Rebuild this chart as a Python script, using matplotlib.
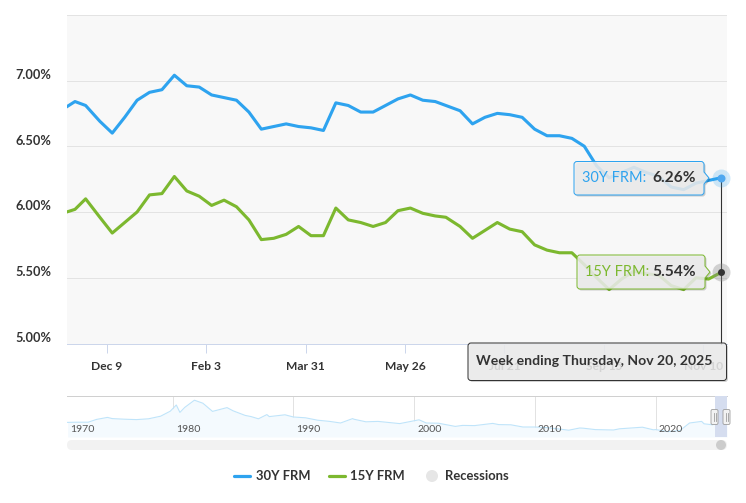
import matplotlib
matplotlib.use('Agg')
import matplotlib.pyplot as plt
from matplotlib.path import Path
from matplotlib.patches import PathPatch, FancyBboxPatch, Circle
from matplotlib.transforms import ScaledTranslation
import pandas as pd

plt.rcParams['font.family'] = ['Lato', 'DejaVu Sans']

# ---------------- data ----------------
week_dates = ['2024-11-14', '2024-11-21', '2024-11-27', '2024-12-05', '2024-12-12', '2024-12-19',
              '2024-12-26', '2025-01-02', '2025-01-09', '2025-01-16', '2025-01-23', '2025-01-30',
              '2025-02-06', '2025-02-13', '2025-02-20', '2025-02-27', '2025-03-06', '2025-03-13',
              '2025-03-20', '2025-03-27', '2025-04-03', '2025-04-10', '2025-04-17', '2025-04-24',
              '2025-05-01', '2025-05-08', '2025-05-15', '2025-05-22', '2025-05-29', '2025-06-05',
              '2025-06-12', '2025-06-18', '2025-06-26', '2025-07-03', '2025-07-10', '2025-07-17',
              '2025-07-24', '2025-07-31', '2025-08-07', '2025-08-14', '2025-08-21', '2025-08-28',
              '2025-09-04', '2025-09-11', '2025-09-18', '2025-09-25', '2025-10-02', '2025-10-09',
              '2025-10-16', '2025-10-23', '2025-10-30', '2025-11-06', '2025-11-13', '2025-11-20']
frm30 = [6.78, 6.84, 6.81, 6.69, 6.60, 6.72, 6.85, 6.91, 6.93, 7.04, 6.96, 6.95,
         6.89, 6.87, 6.85, 6.76, 6.63, 6.65, 6.67, 6.65, 6.64, 6.62, 6.83, 6.81,
         6.76, 6.76, 6.81, 6.86, 6.89, 6.85, 6.84, 6.81, 6.77, 6.67, 6.72, 6.75,
         6.74, 6.72, 6.63, 6.58, 6.58, 6.56, 6.50, 6.35, 6.26, 6.30, 6.34, 6.30,
         6.27, 6.19, 6.17, 6.22, 6.24, 6.26]
frm15 = [5.99, 6.02, 6.10, 5.96, 5.84, 5.92, 6.00, 6.13, 6.14, 6.27, 6.16, 6.12,
         6.05, 6.09, 6.04, 5.94, 5.79, 5.80, 5.83, 5.89, 5.82, 5.82, 6.03, 5.94,
         5.92, 5.89, 5.92, 6.01, 6.03, 5.99, 5.97, 5.96, 5.89, 5.80, 5.86, 5.92,
         5.87, 5.85, 5.75, 5.71, 5.69, 5.69, 5.60, 5.50, 5.41, 5.49, 5.55, 5.53,
         5.52, 5.44, 5.41, 5.50, 5.49, 5.54]

x_tick_dates = ['2024-12-09', '2025-02-03', '2025-03-31', '2025-05-26', '2025-07-21', '2025-09-15', '2025-11-10']
x_tick_labels = ['Dec 9', 'Feb 3', 'Mar 31', 'May 26', 'Jul 21', 'Sep 15', 'Nov 10']
y_ticks = [5.0, 5.5, 6.0, 6.5, 7.0, 7.5]
y_tick_labels = ['5.00%', '5.50%', '6.00%', '6.50%', '7.00%', '']

nav_years = [1971.3, 1972.0, 1973.0, 1973.7, 1974.6, 1975.0, 1976.0, 1977.0, 1978.0, 1979.0,
             1979.8, 1980.3, 1980.6, 1981.0, 1981.8, 1982.5, 1983.3, 1984.5, 1985.0, 1986.0,
             1986.5, 1987.1, 1987.8, 1988.0, 1989.3, 1990.0, 1991.0, 1992.0, 1993.0, 1993.9,
             1994.9, 1995.0, 1996.0, 1997.0, 1998.8, 2000.4, 2001.0, 2002.0, 2003.4, 2004.0,
             2005.0, 2006.5, 2007.0, 2008.0, 2009.0, 2010.0, 2011.0, 2012.8, 2013.7, 2014.0,
             2015.0, 2016.5, 2017.0, 2018.9, 2019.8, 2020.0, 2021.0, 2022.0, 2022.8, 2023.8,
             2024.0, 2024.7, 2025.0, 2025.9]
nav_rates = [7.3, 7.4, 7.4, 8.8, 9.8, 9.2, 8.9, 8.7, 9.1, 10.4,
             12.9, 16.0, 12.3, 14.8, 18.4, 16.9, 12.8, 14.7, 13.1, 10.8,
             10.2, 9.1, 11.2, 10.2, 11.1, 10.0, 9.6, 8.4, 7.8, 7.0,
             9.2, 8.9, 7.6, 7.8, 6.7, 8.6, 7.0, 6.9, 5.3, 5.8,
             5.7, 6.8, 6.2, 6.1, 5.0, 5.0, 4.7, 3.4, 4.5, 4.4,
             3.7, 3.5, 4.1, 4.9, 3.6, 3.7, 2.7, 3.2, 7.0, 7.8,
             6.6, 6.1, 6.9, 6.2]
nav_decades = [1980, 1990, 2000, 2010, 2020]
nav_labels = ['1970', '1980', '1990', '2000', '2010', '2020']

series_names = ['30Y FRM', '15Y FRM', 'Recessions']
week_label = 'Week ending Thursday, Nov 20, 2025'

# ---------------- styles ----------------
BLUE = '#2ea3ef'
GREEN = '#7cb82f'
DARK = '#333333'
W, H = 746, 503
PX = 0.72  # points per pixel at dpi 100

fig = plt.figure(figsize=(W / 100, H / 100), dpi=100)

# ---------------- main chart ----------------
ax = fig.add_axes([67 / W, 1 - 343.5 / H, 660 / W, (343.5 - 14.75) / H])
ax.set_facecolor('#f8f8f8')
d = pd.to_datetime(week_dates)
ax.plot(d, frm30, color=BLUE, lw=3.1 * PX, solid_joinstyle='round', zorder=3)
ax.plot(d, frm15, color=GREEN, lw=3.1 * PX, solid_joinstyle='round', zorder=3)
ax.set_xlim(pd.Timestamp('2024-11-16 12:00'), pd.Timestamp('2025-11-23 10:00'))
ax.set_ylim(5.0, 7.5)
ax.set_yticks(y_ticks)
ax.set_yticklabels([])
ax.yaxis.grid(True, color='#e3e3e3', lw=1.0 * PX)
ax.set_axisbelow(True)
ax.tick_params(axis='y', length=0)
ylab_tr = ax.get_yaxis_transform() + ScaledTranslation(0, 5.5 / 100, fig.dpi_scale_trans)
for yv, lab in zip(y_ticks, y_tick_labels):
    ax.text(-15.5 / 660, yv, lab, transform=ylab_tr, ha='right', va='center',
            fontsize=12.8 * PX, fontweight='bold', color=DARK)
ax.set_xticks(pd.to_datetime(x_tick_dates))
ax.set_xticklabels(x_tick_labels)
ax.tick_params(axis='x', length=9 * PX, width=1 * PX, color='#ccd6eb', pad=9 * PX,
               labelsize=12 * PX, labelcolor=DARK)
for t in ax.get_xticklabels():
    t.set_fontweight('bold')
for s in ['top', 'left', 'right']:
    ax.spines[s].set_visible(False)
ax.spines['bottom'].set_color('#ccd6eb')
ax.spines['bottom'].set_linewidth(1 * PX)

last = d[-1]
# crosshair
ax.plot([last, last], [frm30[-1], 5.0], color=DARK, lw=1.1 * PX, clip_on=False, zorder=4)
# hover markers
ax.scatter([last], [frm30[-1]], s=(18 * PX) ** 2, color=BLUE, alpha=0.22, lw=0, zorder=5, clip_on=False)
ax.scatter([last], [frm30[-1]], s=(8 * PX) ** 2, color='#4fa8f0', lw=0, zorder=6, clip_on=False)
ax.scatter([last], [frm15[-1]], s=(18 * PX) ** 2, color='#888888', alpha=0.35, lw=0, zorder=5, clip_on=False)
ax.scatter([last], [frm15[-1]], s=(7 * PX) ** 2, color=DARK, lw=0, zorder=6, clip_on=False)

# ---------------- navigator ----------------
nav = fig.add_axes([67 / W, 1 - 437 / H, 660 / W, 41 / H])
nav.set_facecolor('white')
nav.fill_between(nav_years, nav_rates, 0, color='#f4fafe', lw=0)
nav.plot(nav_years, nav_rates, color='#bfe4fa', lw=1.1 * PX)
nav.set_xlim(1971.25, 2025.9)
nav.set_ylim(0, 20.5)
for yr in nav_decades:
    nav.axvline(yr, color='#e2e2e2', lw=1 * PX, zorder=0.5)
nav.axvspan(2024.88, 2025.9, color='#d5ddef', lw=0, zorder=3)
nav.set_xticks([])
nav.set_yticks([])
for s in ['left', 'right', 'bottom']:
    nav.spines[s].set_visible(False)
nav.spines['top'].set_color('#d0d0d0')
nav.spines['top'].set_linewidth(1 * PX)
label_x = [1971.5] + [yr + 0.25 for yr in nav_decades]
for lx, lab in zip(label_x, nav_labels):
    nav.text(lx, 0.19, lab, transform=nav.get_xaxis_transform(), ha='left', va='center',
             fontsize=10.5 * PX, color='#555555', zorder=4)

# ---------------- overlay (tooltips, legend, scrollbar) ----------------
ov = fig.add_axes([0, 0, 1, 1])
ov.set_xlim(0, W)
ov.set_ylim(H, 0)
ov.axis('off')
ov.set_zorder(10)
ov.patch.set_alpha(0)


def tip_path(x0, y0, x1, y1, r, ptr=None):
    verts, codes = [], []

    def mv(p):
        verts.append(p); codes.append(Path.MOVETO)

    def ln(p):
        verts.append(p); codes.append(Path.LINETO)

    def cv(c, p):
        verts.extend([c, p]); codes.extend([Path.CURVE3, Path.CURVE3])

    mv((x0 + r, y0))
    ln((x1 - r, y0))
    cv((x1, y0), (x1, y0 + r))
    if ptr is not None:
        py, tipx, hw = ptr
        ln((x1, py - hw))
        ln((tipx, py))
        ln((x1, py + hw))
    ln((x1, y1 - r))
    cv((x1, y1), (x1 - r, y1))
    ln((x0 + r, y1))
    cv((x0, y1), (x0, y1 - r))
    ln((x0, y0 + r))
    cv((x0, y0), (x0 + r, y0))
    verts.append((x0 + r, y0)); codes.append(Path.CLOSEPOLY)
    return Path(verts, codes)


def tooltip(x0, y0, x1, y1, edge, ptr=None):
    shp = tip_path(x0 + 1.5, y0 + 1.5, x1 + 1.5, y1 + 1.5, 3,
                   None if ptr is None else (ptr[0] + 1.5, ptr[1] + 1.5, ptr[2]))
    ov.add_patch(PathPatch(shp, facecolor=(0, 0, 0, 0.18), edgecolor='none'))
    p = tip_path(x0, y0, x1, y1, 3, ptr)
    ov.add_patch(PathPatch(p, facecolor=(0.94, 0.94, 0.94, 0.86), edgecolor=edge, lw=1 * PX))


tooltip(574, 161.5, 704, 195, BLUE, ptr=(178, 709, 6))
ov.text(582.5, 178.5, series_names[0] + ':', color=BLUE, fontsize=14.5 * PX, ha='left', va='center')
ov.text(695.5, 178.5, f'{frm30[-1]:.2f}%', color=DARK, fontsize=15.5 * PX, fontweight='bold',
        ha='right', va='center')

tooltip(577, 255, 705, 289, GREEN, ptr=(272, 710, 6))
ov.text(585, 272, series_names[1] + ':', color=GREEN, fontsize=14.5 * PX, ha='left', va='center')
ov.text(695.5, 272, f'{frm15[-1]:.2f}%', color=DARK, fontsize=15.5 * PX, fontweight='bold',
        ha='right', va='center')

tooltip(468, 343, 726.5, 380.5, DARK)
ov.text(476.5, 361, week_label, color=DARK, fontsize=14 * PX, fontweight='bold', ha='left', va='center')

# navigator handles
for hx in (714.5, 726.5):
    ov.add_patch(FancyBboxPatch((hx - 3.5, 409.5), 7, 15, boxstyle='round,pad=0,rounding_size=1.5',
                                facecolor='#f2f2f2', edgecolor='#999999', lw=0.8 * PX))
    ov.plot([hx - 1, hx - 1], [413, 421], color='#999999', lw=0.8 * PX)
    ov.plot([hx + 1, hx + 1], [413, 421], color='#999999', lw=0.8 * PX)

# scrollbar
ov.add_patch(FancyBboxPatch((67, 440), 660, 10, boxstyle='round,pad=0,rounding_size=5',
                            facecolor='#f2f2f2', edgecolor='none'))
ov.add_patch(Circle((721, 445), 5, facecolor='#cccccc', edgecolor='none'))

# legend
ly = 476
ov.plot([234, 250], [ly, ly], color=BLUE, lw=3.2 * PX, solid_capstyle='round')
ov.text(255.5, ly, series_names[0], color=DARK, fontsize=13 * PX, fontweight='bold', ha='left', va='center')
ov.plot([329, 345], [ly, ly], color=GREEN, lw=3.2 * PX, solid_capstyle='round')
ov.text(350.5, ly, series_names[1], color=DARK, fontsize=13 * PX, fontweight='bold', ha='left', va='center')
ov.add_patch(Circle((432, ly), 6, facecolor='#e6e6e6', edgecolor='none'))
ov.text(445, ly, series_names[2], color=DARK, fontsize=13 * PX, fontweight='bold', ha='left', va='center')

fig.savefig('out.png', dpi=100)
